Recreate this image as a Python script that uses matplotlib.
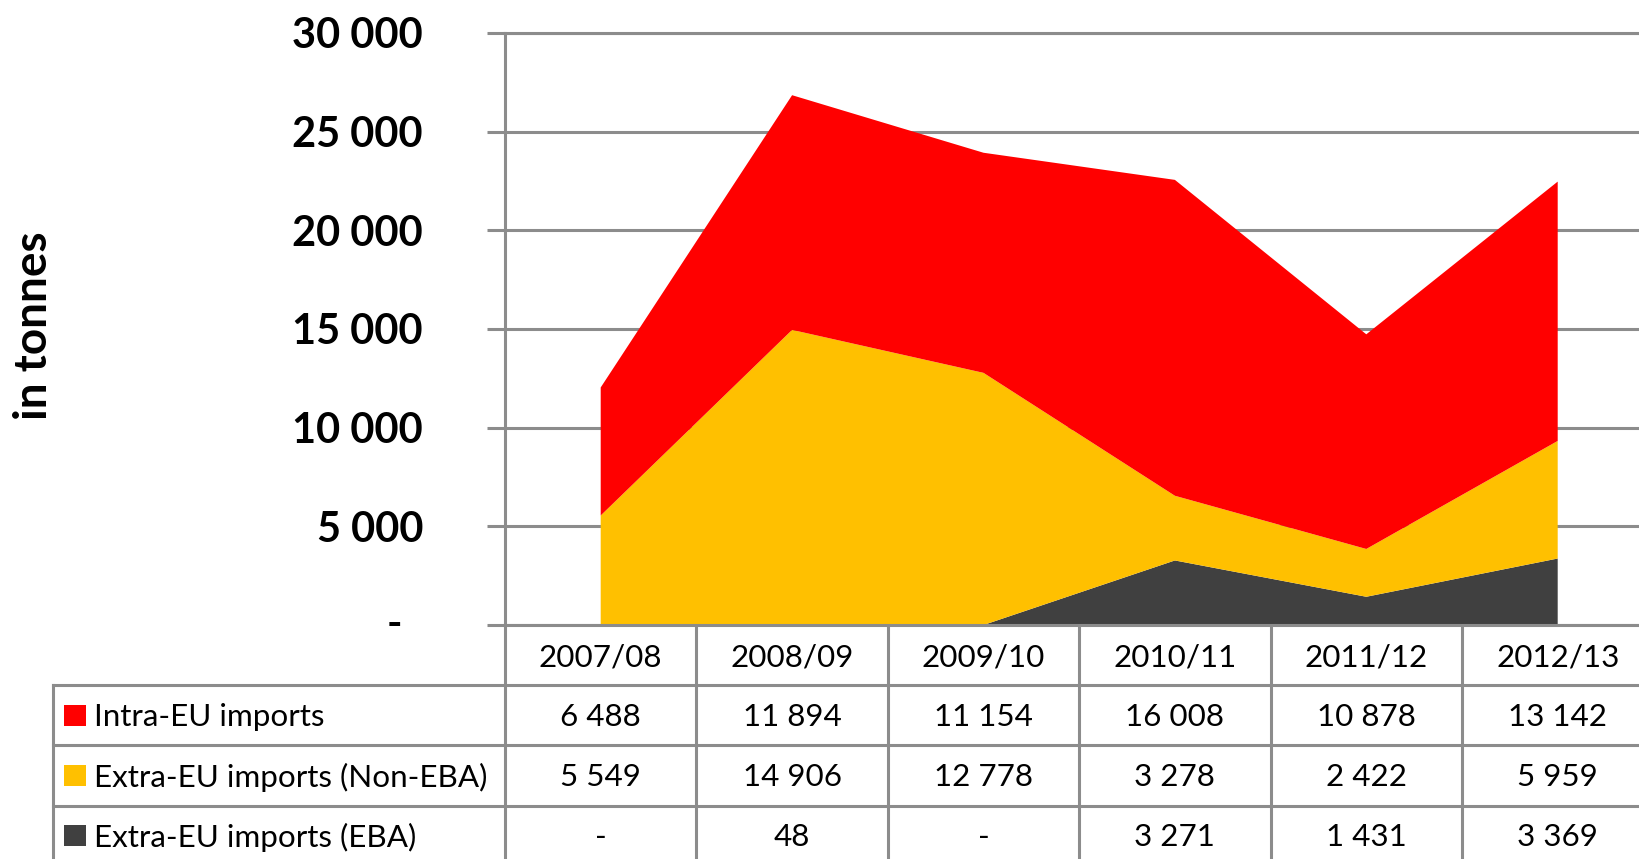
import matplotlib
matplotlib.use("Agg")
import matplotlib.pyplot as plt
from matplotlib.patches import Rectangle
from matplotlib.lines import Line2D
import matplotlib.transforms as mtransforms
from matplotlib.ticker import FuncFormatter

plt.rcParams['font.family'] = ['Lato', 'DejaVu Sans']

seasons = ["2007/08", "2008/09", "2009/10", "2010/11", "2011/12", "2012/13"]
intra_eu = [6488, 11894, 11154, 16008, 10878, 13142]
extra_non_eba = [5549, 14906, 12778, 3278, 2422, 5959]
extra_eba = [0, 48, 0, 3271, 1431, 3369]
series_names = ["Intra-EU imports", "Extra-EU imports (Non-EBA)", "Extra-EU imports (EBA)"]
series_colors = ["#FF0000", "#FFC000", "#404040"]
yticks = [0, 5000, 10000, 15000, 20000, 25000, 30000]

W, H = 1640, 859
GRAY = "#8C8C8C"
LW = 2.2

fig = plt.figure(figsize=(W / 100, H / 100), dpi=100)

# overlay in pixel coordinates for the table structure
ov = fig.add_axes([0, 0, 1, 1], zorder=0)
ov.set_xlim(0, W)
ov.set_ylim(H, 0)
ov.axis("off")

ax_left, ax_top, ax_bottom = 505, 33, 625
col_w = 191.4
ax = fig.add_axes([ax_left / W, (H - ax_bottom) / H, 6 * col_w / W, (ax_bottom - ax_top) / H], zorder=2)
ax.patch.set_alpha(0)

x = list(range(len(seasons)))
ax.stackplot(x, extra_eba, extra_non_eba, intra_eu,
             colors=[series_colors[2], series_colors[1], series_colors[0]],
             linewidth=0, zorder=2)
ax.set_xlim(-0.5, len(seasons) - 0.5)
ax.set_ylim(0, 30000)
ax.set_yticks(yticks)
ax.yaxis.set_major_formatter(FuncFormatter(
    lambda v, p: "" if v == 0 else f"{v:,.0f}".replace(",", " ")))
ax.set_xticks([])
ax.yaxis.grid(True, color=GRAY, linewidth=LW)
ax.set_axisbelow(True)
ax.spines["right"].set_visible(False)
for s in ["left", "top", "bottom"]:
    ax.spines[s].set_color(GRAY)
    ax.spines[s].set_linewidth(LW)
ax.tick_params(axis="y", direction="out", length=13, width=LW, color=GRAY,
               pad=46, labelsize=30)
for lab in ax.get_yticklabels():
    lab.set_fontweight("bold")
# zero label "-" as in accounting format
ax.annotate("-", xy=(-0.5, 0), xycoords="data", xytext=(-103 * 0.72, 0),
            textcoords="offset points", ha="right", va="center",
            fontsize=30, fontweight="bold", annotation_clip=False)

fig.text(34 / W, 1 - 326 / H, "in tonnes", rotation=90, ha="center", va="center",
         fontsize=33, fontweight="bold")

# table
bt = mtransforms.blended_transform_factory(ax.transData, ov.transData)
row_lines = [685, 745, 806]
for yl in row_lines:
    ov.add_line(Line2D([53, W], [yl, yl], color=GRAY, lw=LW))
ov.add_line(Line2D([53, 53], [685, H], color=GRAY, lw=LW))
for i in range(len(seasons)):
    xb = i - 0.5
    ov.add_line(Line2D([xb, xb], [ax_bottom, H], color=GRAY, lw=LW, transform=bt))

fs = 22.6
header_y = 658
for i, s in enumerate(seasons):
    ov.text(i, header_y, s, transform=bt, ha="center", va="center", fontsize=fs)

rows = [intra_eu, extra_non_eba, extra_eba]
row_centers = [717, 777, 837]
for r, (vals, name, col, yc) in enumerate(zip(rows, series_names, series_colors, row_centers)):
    ov.add_patch(Rectangle((64, yc - 12.5), 22, 21, facecolor=col, edgecolor="none"))
    ov.text(94, yc, name, ha="left", va="center", fontsize=fs)
    for i, v in enumerate(vals):
        t = "-" if v == 0 else f"{v:,.0f}".replace(",", " ")
        ov.text(i, yc, t, transform=bt, ha="center", va="center", fontsize=fs)

fig.savefig("out.png", dpi=100)
